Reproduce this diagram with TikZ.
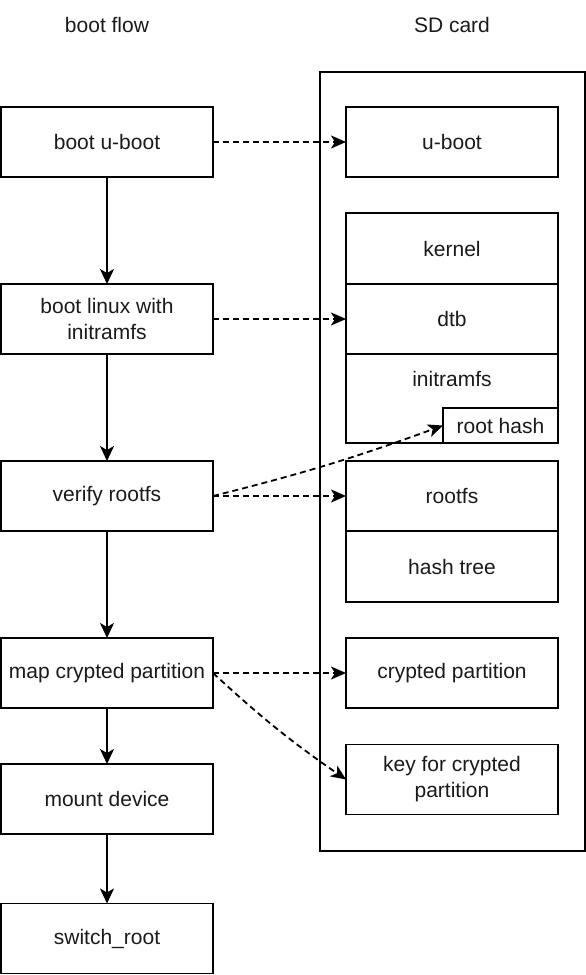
\documentclass[tikz,border=0pt]{standalone}
\usepackage{fontspec}
\setmainfont{Liberation Sans}
\usetikzlibrary{arrows.meta}
\definecolor{txt}{HTML}{1A1A1A}
\tikzset{
  box/.style={draw=black, line width=1.8pt, rectangle, inner sep=0pt, outer sep=0pt,
    text=txt, align=center, font=\fontsize{21}{26}\selectfont},
  lbox/.style={box, minimum width=212pt, minimum height=70pt},
  rbox/.style={box, minimum width=212pt},
  title/.style={text=txt, font=\fontsize{21}{26}\selectfont},
  flowarrow/.style={draw=black, line width=2pt, -{Stealth[length=15pt, width=14pt, inset=4pt]}},
  refarrow/.style={draw=black, line width=1.8pt, dash pattern=on 6pt off 4pt, -{Stealth[length=15pt, width=13pt, inset=4pt]}},
}
\begin{document}
\begin{tikzpicture}[x=1pt, y=-1pt]
\useasboundingbox (0,0) rectangle (586,975);
% titles
\node[title] (t1) at (107,25) {boot flow};
\node[title] (t2) at (452,25) {SD card};
% SD card container
\draw[line width=1.5pt] (320,72) rectangle (585,851);
% left column
\node[lbox] (b1) at (107,142) {boot u-boot};
\node[lbox] (b2) at (107,319) {boot linux with\\initramfs};
\node[lbox] (b3) at (107,496) {verify rootfs};
\node[lbox] (b4) at (107,673) {map crypted partition};
\node[lbox] (b5) at (107,799) {mount device};
\node[lbox] (b6) at (107,938.5) {switch\_root};
% right column
\node[rbox, minimum height=70pt] (uboot) at (452,142) {u-boot};
\node[rbox, minimum height=71pt] (kernel) at (452,248.5) {kernel};
\node[rbox, minimum height=70pt] (dtb) at (452,319) {dtb};
\node[box, minimum width=212pt, minimum height=89pt] (initrd) at (452,398.5) {};
\node[title] (initrdt) at (452,379) {initramfs};
\node[box, minimum width=115pt, minimum height=35pt] (rh) at (500.5,425.5) {root hash};
\node[rbox, minimum height=70pt] (rootfs) at (452,496) {rootfs};
\node[rbox, minimum height=71pt] (htree) at (452,566.5) {hash tree};
\node[rbox, minimum height=70pt] (crypt) at (452,673) {crypted partition};
\node[rbox, minimum height=70pt] (key) at (452,779.5) {key for crypted\\partition};
% flow arrows
\draw[flowarrow] (b1.south) -- (b2.north);
\draw[flowarrow] (b2.south) -- (b3.north);
\draw[flowarrow] (b3.south) -- (b4.north);
\draw[flowarrow] (b4.south) -- (b5.north);
\draw[flowarrow] (b5.south) -- (b6.north);
% reference arrows
\draw[refarrow] (b1.east) -- (uboot.west);
\draw[refarrow] (b2.east) -- (dtb.west);
\draw[refarrow] (b3.east) to[bend right=3] (rh.west);
\draw[refarrow] (b3.east) -- (rootfs.west);
\draw[refarrow] (b4.east) -- (crypt.west);
\draw[refarrow] (b4.east) to[bend right=4] (key.west);
\end{tikzpicture}
\end{document}
